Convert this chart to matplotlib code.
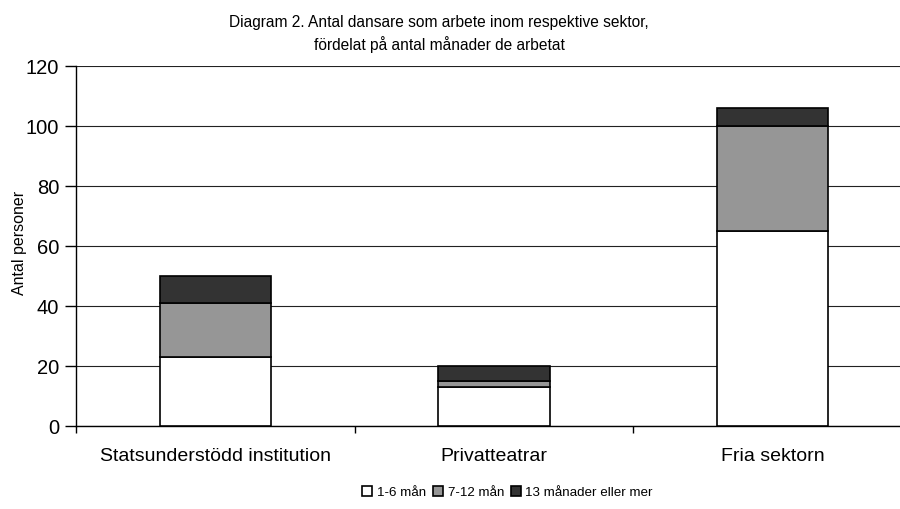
import numpy as np
import matplotlib
matplotlib.use('Agg')
import matplotlib.pyplot as plt
from matplotlib.ticker import FixedLocator

plt.rcParams['font.family'] = ['Liberation Sans', 'DejaVu Sans']

sectors = ['Statsunderstödd institution', 'Privatteatrar', 'Fria sektorn']
months_1_6 = [23, 13, 65]
months_7_12 = [18, 2, 35]
months_13_plus = [9, 5, 6]
series_names = ['1-6 mån', '7-12 mån', '13 månader eller mer']
series_colors = ['#ffffff', '#969696', '#333333']

fig = plt.figure(figsize=(9, 5.09), dpi=100)
ax = fig.add_axes([0.0844, 0.163, 0.9287, 0.707])

x = np.arange(len(sectors))
bottom = np.zeros(len(sectors))
for vals, name, col in zip([months_1_6, months_7_12, months_13_plus], series_names, series_colors):
    ax.bar(x, vals, width=0.4, bottom=bottom, color=col, edgecolor='black',
           linewidth=1.2, label=name, zorder=3)
    bottom += np.array(vals)

ax.set_xlim(-0.5, len(sectors) - 0.5)
ax.set_ylim(0, 120)
ax.set_yticks(range(0, 121, 20))
ax.yaxis.grid(True, color='#222222', linewidth=0.8, zorder=0)
ax.set_axisbelow(True)

ax.set_xticks(x)
ax.set_xticklabels(sectors, fontsize=14)
ax.tick_params(axis='x', which='major', length=0, pad=16)
ax.xaxis.set_minor_locator(FixedLocator(np.arange(-0.5, len(sectors), 1.0)))
ax.tick_params(axis='x', which='minor', length=5, width=1, direction='out')
ax.tick_params(axis='y', length=8, width=1, direction='out', labelsize=14.5, pad=4)

for s in ['top', 'right']:
    ax.spines[s].set_visible(False)
for s in ['left', 'bottom']:
    ax.spines[s].set_linewidth(1)

ax.set_ylabel('Antal personer', fontsize=11.5)
ax.yaxis.set_label_coords(-0.058, 0.51)

fig.text(0.488, 0.933, 'Diagram 2. Antal dansare som arbete inom respektive sektor,\nfördelat på antal månader de arbetat',
         ha='center', va='center', fontsize=11.2, linespacing=1.45)

fig.legend(loc='center', bbox_to_anchor=(0.564, 0.032), ncol=3, frameon=False,
           fontsize=9.6, handlelength=0.75, handleheight=0.75, handletextpad=0.35,
           columnspacing=0.5)

fig.savefig('out.png', dpi=100)
